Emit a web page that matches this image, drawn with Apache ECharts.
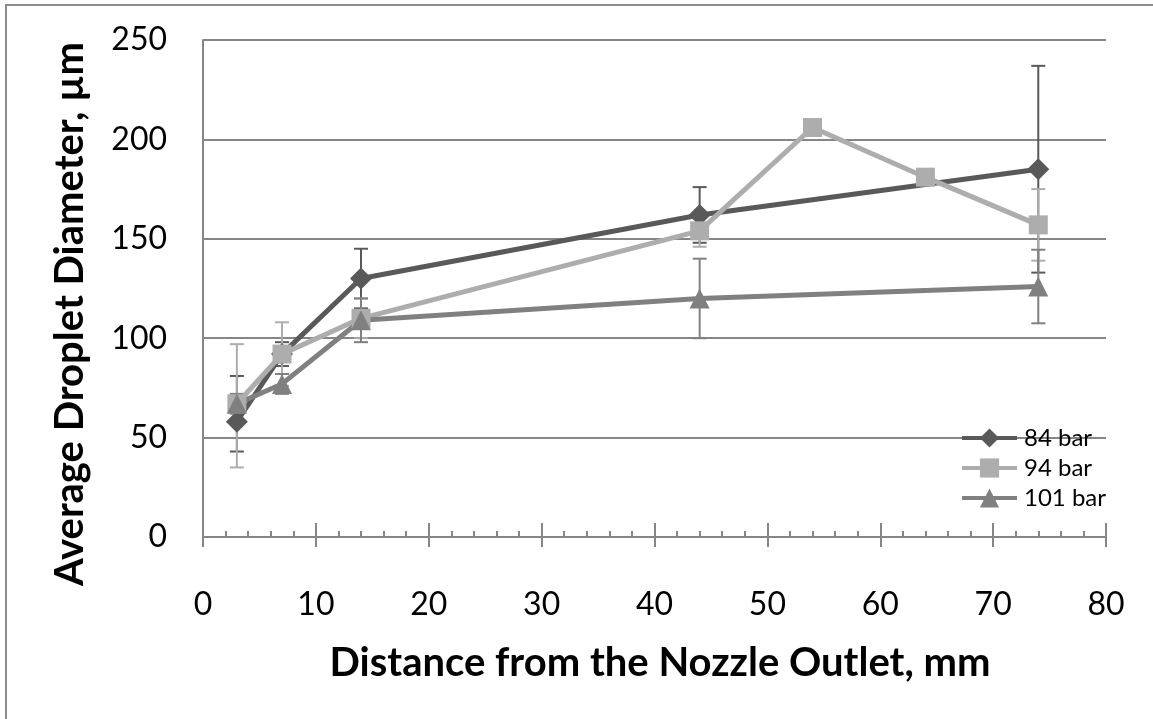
<!DOCTYPE html>
<html><head><meta charset="utf-8">
<script src="https://cdn.jsdelivr.net/npm/echarts@6/dist/echarts.min.js"></script>
<style>html,body{margin:0;padding:0;background:#fff}#c{width:1153px;height:719px}</style>
</head><body><div id="c"></div>
<script>
const xTicks = [0, 10, 20, 30, 40, 50, 60, 70, 80];
const yTicks = [0, 50, 100, 150, 200, 250];
const seriesNames = ['84 bar', '94 bar', '101 bar'];
const x84 = [3, 7, 14, 44, 74];
const y84 = [58, 92, 130, 162, 185];
const lo84 = [43, 86, 115, 148, 133];
const hi84 = [81, 98, 145, 176, 237];
const x94 = [3, 7, 14, 44, 54, 64, 74];
const y94 = [67, 92, 110, 154, 206, 181, 157];
const lo94 = [35, 76, 100, 146, 206, 181, 139];
const hi94 = [97, 108, 120, 162, 206, 181, 175];
const x101 = [3, 7, 14, 44, 74];
const y101 = [67, 77, 109, 120, 126];
const lo101 = [62, 72, 98, 100, 107.5];
const hi101 = [72, 82, 120, 140, 144.5];

const colors = ['#595959', '#adadad', '#808080'];
const FONT = 'Lato';

function pts(xs, ys) { return xs.map((x, i) => [x, ys[i]]); }
function errData(xs, lo, hi) { return xs.map((x, i) => [x, lo[i], hi[i]]); }
function errSeries(data, color) {
  return {
    type: 'custom', silent: true, z: 1,
    data: data,
    encode: { x: 0, y: [1, 2] },
    renderItem: function (params, api) {
      const x = api.value(0), lo = api.value(1), hi = api.value(2);
      if (lo === hi) return null;
      const pLo = api.coord([x, lo]), pHi = api.coord([x, hi]);
      const w = 7;
      const st = { stroke: color, lineWidth: 2 };
      return { type: 'group', children: [
        { type: 'line', shape: { x1: pLo[0], y1: pLo[1], x2: pHi[0], y2: pHi[1] }, style: st },
        { type: 'line', shape: { x1: pLo[0] - w, y1: pLo[1], x2: pLo[0] + w, y2: pLo[1] }, style: st },
        { type: 'line', shape: { x1: pHi[0] - w, y1: pHi[1], x2: pHi[0] + w, y2: pHi[1] }, style: st }
      ]};
    }
  };
}
function lineSeries(name, data, color, symbol, size) {
  return {
    name: name, type: 'line', data: data, symbol: symbol, symbolSize: size,
    z: 3, lineStyle: { color: color, width: 5 }, itemStyle: { color: color },
    emphasis: { disabled: true }, animation: false
  };
}

const chart = echarts.init(document.getElementById('c'));
const grid = { left: 203, right: 47, top: 40, bottom: 182 };
chart.setOption({
  animation: false,
  textStyle: { fontFamily: FONT },
  grid: grid,
  legend: {
    data: seriesNames, orient: 'vertical', left: 955, top: 421,
    itemWidth: 55, itemHeight: 24, itemGap: 6,
    lineStyle: { width: 4 },
    textStyle: { fontFamily: FONT, fontSize: 24, color: '#000', padding: [0, 0, 0, 2] }
  },
  xAxis: [{
    type: 'value', min: xTicks[0], max: xTicks[xTicks.length - 1], interval: 10,
    position: 'bottom',
    axisLine: { onZero: false, lineStyle: { color: '#868686', width: 2 } },
    axisTick: { show: true, length: 10, lineStyle: { color: '#868686', width: 2 } },
    axisLabel: { fontFamily: FONT, fontSize: 32, color: '#000', margin: 52 },
    splitLine: { show: false }
  }, {
    type: 'value', min: xTicks[0], max: xTicks[xTicks.length - 1], interval: 10,
    position: 'bottom',
    axisLine: { show: false, onZero: false },
    axisTick: { show: true, inside: true, length: 14, lineStyle: { color: '#868686', width: 2 } },
    minorTick: { show: true, splitNumber: 5, length: 6, lineStyle: { color: '#868686', width: 2 } },
    axisLabel: { show: false },
    splitLine: { show: false }
  }],
  yAxis: {
    type: 'value', min: yTicks[0], max: yTicks[yTicks.length - 1], interval: 50,
    axisLine: { show: true, lineStyle: { color: '#868686', width: 2 } },
    axisTick: { show: false },
    axisLabel: { fontFamily: FONT, fontSize: 32, color: '#000', margin: 36 },
    splitLine: { lineStyle: { color: '#868686', width: 2 } }
  },
  graphic: [
    { type: 'polyline', shape: { points: [[6, 719], [6, 5], [1153, 5]] }, style: { stroke: '#8c8c8c', lineWidth: 2, fill: null } },
    { type: 'text', x: 660, y: 663, style: { text: 'Distance from the Nozzle Outlet, mm', font: 'bold 40px ' + FONT, fill: '#000', align: 'center', verticalAlign: 'middle' } },
    { type: 'text', x: 70, y: 314, rotation: Math.PI / 2, style: { text: 'Average Droplet Diameter, µm', font: 'bold 40px ' + FONT, fill: '#000', align: 'center', verticalAlign: 'middle' } }
  ],
  series: [
    errSeries(errData(x84, lo84, hi84), colors[0]),
    errSeries(errData(x94, lo94, hi94), colors[1]),
    errSeries(errData(x101, lo101, hi101), colors[2]),
    lineSeries(seriesNames[0], pts(x84, y84), colors[0], 'diamond', 22),
    lineSeries(seriesNames[1], pts(x94, y94), colors[1], 'rect', 19),
    lineSeries(seriesNames[2], pts(x101, y101), colors[2], 'triangle', 20)
  ]
});
</script></body></html>
